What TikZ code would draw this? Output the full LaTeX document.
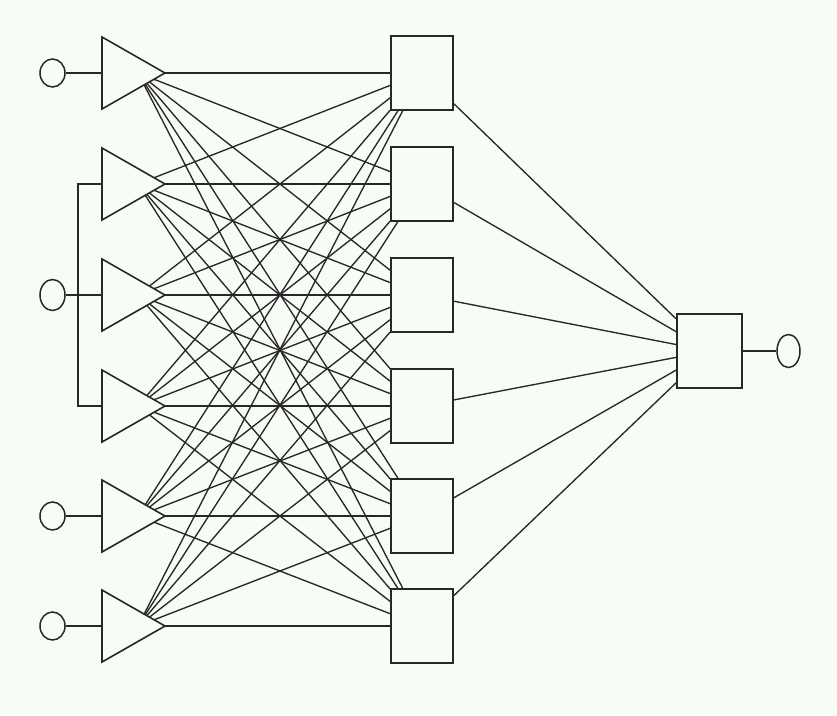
\documentclass[tikz,border=0pt]{standalone}
\usetikzlibrary{shapes.geometric}
\definecolor{bg}{RGB}{248,252,246}
\definecolor{ink}{RGB}{40,40,40}
\begin{document}
\begin{tikzpicture}[x=1pt,y=-1pt,
  box/.style={draw=ink, fill=bg, rectangle, minimum width=62pt, minimum height=74pt, inner sep=0pt, line width=1.8pt},
  port/.style={draw=ink, ellipse, minimum width=25pt, minimum height=28pt, inner sep=0pt, line width=1.5pt},
  wire/.style={draw=ink, line width=1.35pt},
  amp/.style={draw=ink, fill=bg, line width=1.6pt, line join=miter}]
\fill[bg] (0,0) rectangle (837,715);
\useasboundingbox (0,0) rectangle (837,715);
% hidden layer boxes and amplifier coordinates
\foreach \i/\y in {1/73,2/184,3/295,4/406,5/516,6/626} {
  \node[box] (b\i) at (422,\y) {};
  \coordinate (p\i) at (138,\y);
  \coordinate (a\i) at (102,\y);
}
% output box
\node[box, minimum width=65pt] (out) at (709.5,351) {};
% full connections
\foreach \i in {1,...,6} {
  \foreach \j in {1,...,6} {
    \draw[wire] (p\i) -- (b\j);
  }
  \draw[wire] (b\i) -- (out);
}
% amplifier triangles drawn over the wire ends
\foreach \y in {73,184,295,406,516,626} {
  \draw[amp] (102,{\y-36}) -- (165,\y) -- (102,{\y+36}) -- cycle;
}
% inputs
\node[port] (c1) at (52.5,73) {};
\node[port, minimum height=31pt] (c3) at (52.5,295) {};
\node[port] (c5) at (52.5,516) {};
\node[port] (c6) at (52.5,626) {};
\draw[wire] (c1) -- (a1);
\draw[wire] (c3) -- (a3);
\draw[wire] (c5) -- (a5);
\draw[wire] (c6) -- (a6);
\coordinate (k2) at (78,184);
\coordinate (k4) at (78,406);
\draw[wire] (a2) -- (k2) -- (k4) -- (a4);
% output
\node[port, minimum width=23pt, minimum height=33pt] (co) at (788.5,351) {};
\draw[wire] (out) -- (co);
\end{tikzpicture}
\end{document}
